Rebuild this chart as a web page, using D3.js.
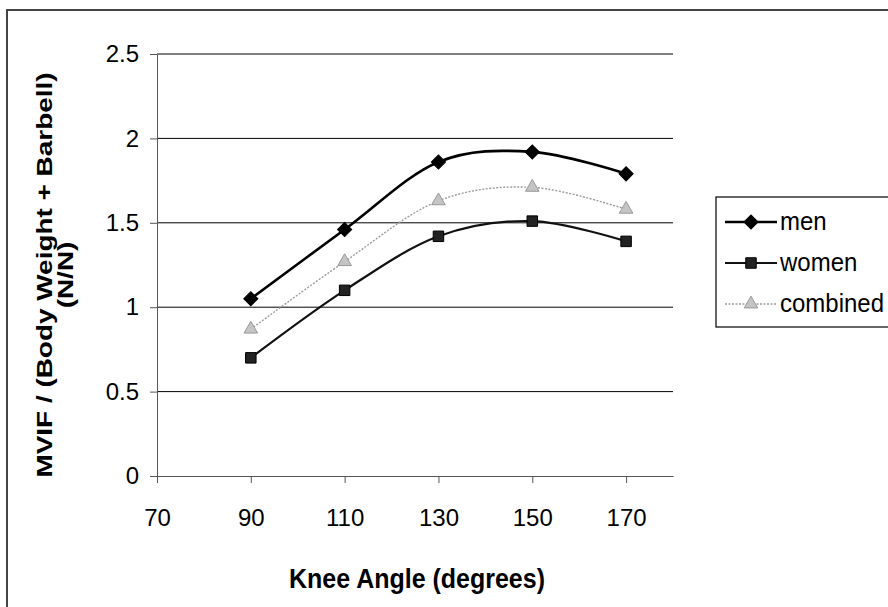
<!DOCTYPE html>
<html>
<head>
<meta charset="utf-8">
<script src="https://cdn.jsdelivr.net/npm/d3@7"></script>
<style>
  html, body { margin: 0; padding: 0; background: #fff; }
  svg { display: block; }
  text { font-family: "Liberation Sans", Arial, sans-serif; fill: #000; }
</style>
</head>
<body>
<svg id="chart" width="888" height="607"></svg>
<script>
// Knee angle (degrees) at which MVIF was measured
const angles = [90, 110, 130, 150, 170];
// MVIF normalised to body weight + barbell (N/N)
const men      = [1.05, 1.46, 1.86, 1.92, 1.79];
const women    = [0.70, 1.10, 1.42, 1.51, 1.39];
const combined = [0.87, 1.27, 1.63, 1.71, 1.58];
const seriesNames = ["men", "women", "combined"];
const xTicks = [70, 90, 110, 130, 150, 170];
const yTicks = [0, 0.5, 1, 1.5, 2, 2.5];

const svg = d3.select("#chart");

// outer chart frame (left and top edges)
svg.append("path")
  .attr("d", "M7,607 L7,10 L888,10")
  .attr("fill", "none").attr("stroke", "#444").attr("stroke-width", 2);

const plot = { left: 157, right: 673, top: 54, bottom: 476 };
const x = d3.scaleLinear().domain([70, 180]).range([plot.left, plot.right]);
const y = d3.scaleLinear().domain([0, 2.5]).range([plot.bottom, plot.top]);

// horizontal gridlines
svg.append("g").selectAll("line")
  .data(yTicks.filter(d => d > 0))
  .join("line")
  .attr("x1", plot.left).attr("x2", plot.right)
  .attr("y1", d => y(d)).attr("y2", d => y(d))
  .attr("stroke", "#000").attr("stroke-width", 1);

// y axis
const yAxis = svg.append("g")
  .attr("transform", `translate(${plot.left},0)`)
  .call(d3.axisLeft(y).tickValues(yTicks).tickFormat(d3.format(""))
    .tickSize(7).tickSizeOuter(0).tickPadding(11));
yAxis.select(".domain").attr("stroke", "#555");
yAxis.selectAll(".tick line").attr("stroke", "#555");
yAxis.selectAll("text").attr("font-size", 24).attr("fill", "#000");

// x axis
const xAxis = svg.append("g")
  .attr("transform", `translate(0,${plot.bottom})`)
  .call(d3.axisBottom(x).tickValues(xTicks).tickFormat(d3.format(""))
    .tickSize(7).tickSizeOuter(0).tickPadding(26));
xAxis.select(".domain").attr("stroke", "#555");
xAxis.selectAll(".tick line").attr("stroke", "#555");
xAxis.selectAll("text").attr("font-size", 24).attr("fill", "#000");

// axis titles
svg.append("text")
  .attr("transform", "translate(417,588) scale(1,1.12)")
  .attr("text-anchor", "middle")
  .attr("font-size", 25).attr("font-weight", "bold")
  .text("Knee Angle (degrees)");

const yTitle = svg.append("text")
  .attr("transform", "translate(52,275) rotate(-90) scale(1.27,1)")
  .attr("text-anchor", "middle")
  .attr("font-size", 22).attr("font-weight", "bold");
yTitle.append("tspan").attr("x", 0).attr("dy", 0).text("MVIF / (Body Weight + Barbell)");
yTitle.append("tspan").attr("x", 0).attr("dy", 21).text("(N/N)");

// series styles
const styles = {
  men:      { values: men,      stroke: "#000", width: 2.6, dash: null,  symbol: d3.symbolSquare,   size: 100, rotate: 45, fill: "#000", sstroke: "#000" },
  women:    { values: women,    stroke: "#111", width: 2.2, dash: null,  symbol: d3.symbolSquare,   size: 110, rotate: 0,  fill: "#222", sstroke: "#000" },
  combined: { values: combined, stroke: "#9a9a9a", width: 1.4, dash: "2 1.5", symbol: d3.symbolTriangle, size: 80, rotate: 0, fill: "#c4c4c4", sstroke: "#999" }
};

const line = d3.line()
  .x(d => x(d[0])).y(d => y(d[1]))
  .curve(d3.curveCardinal.tension(0));

["combined", "women", "men"].forEach(name => {
  const s = styles[name];
  const pts = angles.map((a, i) => [a, s.values[i]]);
  svg.append("path")
    .datum(pts)
    .attr("d", line)
    .attr("fill", "none")
    .attr("stroke", s.stroke)
    .attr("stroke-width", s.width)
    .attr("stroke-dasharray", s.dash);
  svg.append("g").selectAll("path")
    .data(pts)
    .join("path")
    .attr("transform", d => `translate(${x(d[0])},${y(d[1])}) rotate(${s.rotate})`)
    .attr("d", d3.symbol(s.symbol, s.size))
    .attr("fill", s.fill)
    .attr("stroke", s.sstroke)
    .attr("stroke-width", 1);
});

// legend
const legend = svg.append("g");
legend.append("rect")
  .attr("x", 716).attr("y", 197).attr("width", 180).attr("height", 130)
  .attr("fill", "#fff").attr("stroke", "#000").attr("stroke-width", 1.2);
const legendY = d3.scalePoint().domain(seriesNames).range([222, 304]);
seriesNames.forEach(name => {
  const s = styles[name];
  const ly = legendY(name);
  legend.append("line")
    .attr("x1", 725).attr("x2", 777).attr("y1", ly).attr("y2", ly)
    .attr("stroke", s.stroke).attr("stroke-width", s.width)
    .attr("stroke-dasharray", s.dash);
  legend.append("path")
    .attr("transform", `translate(751,${ly}) rotate(${s.rotate})`)
    .attr("d", d3.symbol(s.symbol, s.size))
    .attr("fill", s.fill).attr("stroke", s.sstroke).attr("stroke-width", 1);
  legend.append("text")
    .attr("transform", `translate(780,${ly + 8}) scale(1,1.1)`)
    .attr("font-size", 24)
    .text(name);
});
</script>
</body>
</html>
